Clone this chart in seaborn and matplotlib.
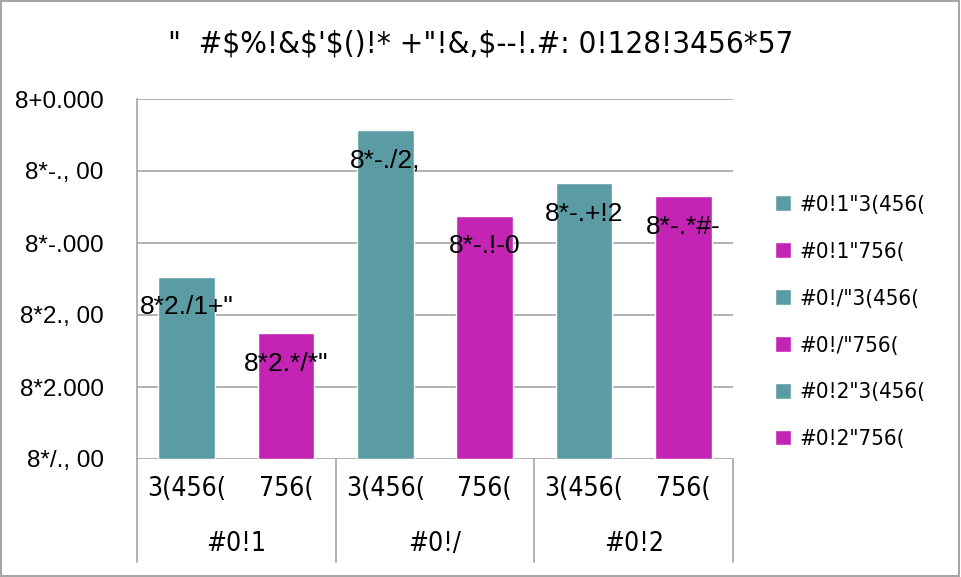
import numpy as np
import pandas as pd
import matplotlib
matplotlib.use('Agg')
import matplotlib.pyplot as plt
import seaborn as sns

# dati (testo lasciato come appare)
title = '"  #$%!&$\'$()!* +"!&,$--!.#: 0!128!3456*57'
groups = ['#0!1', '#0!/', '#0!2']
subcats = ['3(456(', '756(']
series = ['#0!1"3(456(', '#0!1"756(', '#0!/"3(456(', '#0!/"756(', '#0!2"3(456(', '#0!2"756(']
values = [2.53, 1.75, 4.57, 3.38, 3.83, 3.65]
bar_text = ['8*2./1+"', '8*2.*/*"', '8*-./2,', '8*-.!-0', '8*-.+!2', '8*-.*#-']
y_ticks = [0, 1, 2, 3, 4, 5]
y_ticklabels = ['8*/., 00', '8*2.000', '8*2., 00', '8*-.000', '8*-., 00', '8+0.000']

teal = '#5b9ca4'
magenta = '#c424b4'
grid_c = '#a6a6a6'

sns.set_style('white')
plt.rcParams['text.parse_math'] = False
plt.rcParams['text.color'] = 'black'
plt.rcParams['xtick.color'] = 'black'
plt.rcParams['ytick.color'] = 'black'
narrow = ['Liberation Sans Narrow', 'DejaVu Sans']
regular = ['Liberation Sans', 'DejaVu Sans']
cond = dict(family=narrow, stretch='condensed')

df = pd.DataFrame({
    'pos': np.arange(len(series)),
    'serie': series,
    'valore': values,
})

fig = plt.figure(figsize=(9.61, 5.77), dpi=100)
ax = fig.add_axes([137 / 961, 1 - 459 / 577, (733 - 137) / 961, 360 / 577])

sns.barplot(data=df, x='pos', y='valore', hue='serie', hue_order=series,
            palette=[teal, magenta] * 3, dodge=False, width=0.57,
            saturation=1, ax=ax, native_scale=True)

ax.set_xlim(-0.5, len(series) - 0.5)
ax.set_ylim(0, 5)
ax.set_yticks(y_ticks)
ax.set_yticklabels(y_ticklabels, family=regular, fontsize=17.5)
ax.tick_params(axis='y', length=0, pad=24)
for y in y_ticks:
    ax.axhline(y, color=grid_c, lw=1.2, zorder=0)

# etichette valori dentro la barra
for cont, txt in zip(ax.containers, bar_text):
    anns = ax.bar_label(cont, labels=[txt], label_type='edge', padding=-22,
                        family=regular, fontsize=19, color='black')
    for a in anns:
        a.set_va('center')

# asse x a due livelli
ax.set_xticks(df['pos'])
ax.set_xticklabels(subcats * len(groups), fontsize=19, **cond)
ax.tick_params(axis='x', length=0, pad=12)
ax.set_xlabel('')
ax.set_ylabel('')
for i, g in enumerate(groups):
    ax.text(2 * i + 0.5, -0.235, g, transform=ax.get_xaxis_transform(),
            ha='center', va='center', fontsize=19, **cond)
for x in np.arange(-0.5, len(series), 2):
    ax.plot([x, x], [0, -0.286], transform=ax.get_xaxis_transform(),
            color=grid_c, lw=1.2, clip_on=False)

for s in ['top', 'right', 'bottom']:
    ax.spines[s].set_visible(False)
ax.spines['left'].set_color(grid_c)
ax.spines['left'].set_linewidth(1.2)

handles, labels = ax.get_legend_handles_labels()
ax.legend(handles, labels, loc='upper left', bbox_to_anchor=(766 / 961, 1 - 186 / 577),
          bbox_transform=fig.transFigure, frameon=False,
          prop={'family': narrow, 'stretch': 'condensed', 'size': 16},
          handlelength=0.72, handleheight=0.72, handletextpad=0.4, labelspacing=1.21,
          borderaxespad=0)

fig.text(0.5, 1 - 44 / 577, title, ha='center', va='center', fontsize=22.5, **cond)

fig.add_artist(plt.Rectangle((0.001, 0.002), 0.997, 0.996, transform=fig.transFigure,
                             fill=False, ec=grid_c, lw=1.5))

fig.savefig('out.png', dpi=100)
